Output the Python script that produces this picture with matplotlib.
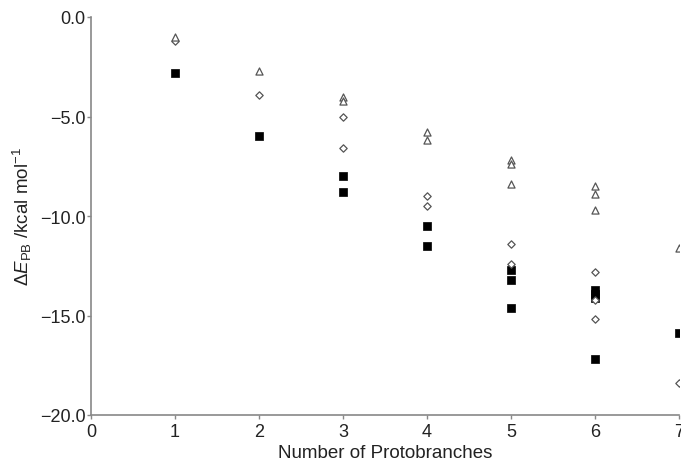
import matplotlib
matplotlib.use("Agg")
import matplotlib.pyplot as plt

plt.rcParams['font.family'] = ['Liberation Sans', 'DejaVu Sans']
plt.rcParams['mathtext.fontset'] = 'custom'
plt.rcParams['mathtext.rm'] = 'Liberation Sans'
plt.rcParams['mathtext.it'] = 'Liberation Sans:italic'

# Triangle series
tri_x = [1, 2, 3, 3, 4, 4, 5, 5, 5, 6, 6, 6, 7]
tri_y = [-1.0, -2.7, -4.0, -4.2, -5.8, -6.2, -7.2, -7.4, -8.4, -8.5, -8.9, -9.7, -11.6]
# Diamond series
dia_x = [1, 2, 3, 3, 4, 4, 5, 5, 6, 6, 6, 7]
dia_y = [-1.2, -3.9, -5.0, -6.6, -9.0, -9.5, -11.4, -12.4, -12.8, -14.2, -15.2, -18.4]
# Square series
sq_x = [1, 2, 3, 3, 4, 4, 5, 5, 5, 6, 6, 6, 6, 7]
sq_y = [-2.8, -6.0, -8.0, -8.8, -10.5, -11.5, -12.7, -13.2, -14.6, -13.7, -13.9, -14.1, -17.2, -15.9]

xticks = [0, 1, 2, 3, 4, 5, 6, 7]
yticks = [0.0, -5.0, -10.0, -15.0, -20.0]

fig = plt.figure(figsize=(6.81, 4.64), dpi=100)
ax = fig.add_axes([91/681, 48/464, 588/681, 398/464])

ax.scatter(sq_x, sq_y, marker='s', s=40, facecolor='black', edgecolor='black', linewidths=0.5, zorder=3)
ax.scatter(dia_x, dia_y, marker='D', s=14, facecolor='white', edgecolor='#555555', linewidths=0.9, zorder=4)
ax.scatter(tri_x, tri_y, marker='^', s=26, facecolor='white', edgecolor='#555555', linewidths=0.9, zorder=4)

ax.set_xlim(0, 7)
ax.set_ylim(-20, 0)
ax.set_xticks(xticks)
ax.set_xticklabels([str(t) for t in xticks])
ax.set_yticks(yticks)
ax.set_yticklabels([f"{t:.1f}".replace('-', '\u2212') for t in yticks])

for s in ['top', 'right']:
    ax.spines[s].set_visible(False)
for s in ['left', 'bottom']:
    ax.spines[s].set_color('#888888')
    ax.spines[s].set_linewidth(1.2)
ax.tick_params(axis='both', colors='#888888', labelcolor='#222222', labelsize=13, length=3, width=1)
ax.tick_params(axis='x', pad=3)
ax.tick_params(axis='y', pad=1)

ax.set_xlabel('Number of Protobranches', fontsize=13.5, color='#222222', labelpad=3)
ax.set_ylabel(r'$\Delta\mathit{E}_{\mathrm{PB}}$ /kcal mol$^{-1}$', fontsize=13.5, color='#222222', labelpad=4)

fig.savefig('out.png', dpi=100)
